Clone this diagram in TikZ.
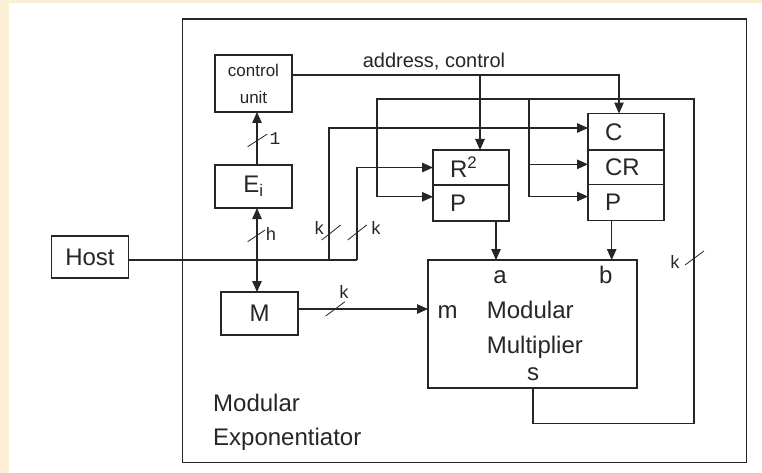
\documentclass[tikz,border=0pt]{standalone}
\usepackage{fontspec}
\setmainfont{Liberation Sans}
\newfontfamily\busfont{Liberation Mono}
\usetikzlibrary{arrows.meta,positioning}
\definecolor{paper}{RGB}{250,238,212}
\definecolor{ink}{RGB}{38,38,38}
\tikzset{
  blk/.style={draw=ink, text=ink, line width=1.1pt, inner sep=0pt, outer sep=0pt,
    font=\fontsize{24}{28}\selectfont},
  reg/.style={blk, minimum width=76pt, minimum height=36pt, text width=42pt,
    inner xsep=17pt, align=left},
  wire/.style={draw=ink, line width=1.1pt},
  arr/.style={wire, -{Triangle[length=11pt,width=9.5pt]}},
  busmark/.style={draw=ink, line width=0.8pt},
  buslbl/.style={text=ink, font=\busfont\fontsize{18}{18}\selectfont, inner sep=0pt},
  txt/.style={text=ink, font=\fontsize{24}{28}\selectfont, inner sep=0pt}
}
\begin{document}
\begin{tikzpicture}[x=1pt,y=-1pt]
\useasboundingbox (0,0) rectangle (762,473);
\fill[paper] (0,0) rectangle (762,473);
\fill[white] (9,3) rectangle (762,473);

\node[blk, minimum width=563.4pt, minimum height=443.7pt] (mexp) at (464.5,240.85) {};
\node[txt, anchor=base west] (mexp1) at (213,411.7) {Modular};
\node[txt, anchor=base west] (mexp2) at (213,445) {Exponentiator};

\node[blk, minimum width=77pt, minimum height=57pt, align=center,
  font=\fontsize{17}{27}\selectfont] (cu) at (253.5,83.5) {control\\unit};
\node[blk, minimum width=77pt, minimum height=43pt] (ei) at (253.5,186.5) {E\textsubscript{i}};
\node[blk, minimum width=77pt, minimum height=43pt] (m) at (259.5,313.5) {M};
\node[blk, minimum width=77pt, minimum height=42pt] (host) at (90,257) {Host};

\node[reg, minimum height=35pt] (r2) at (471,167.5) {R\textsuperscript{2}};
\node[reg, below=0pt of r2] (p1) {P};
\node[reg, minimum height=36.5pt] (c) at (626,131.8) {C};
\node[reg, minimum height=34.5pt, below=0pt of c] (cr) {CR};
\node[reg, below=0pt of cr] (p2) {P};

\node[blk, minimum width=209pt, minimum height=128pt] (mm) at (532.5,324) {};
\node[txt, anchor=base] (mma) at (500,283.3) {a};
\node[txt, anchor=base] (mmb) at (605.7,283.3) {b};
\node[txt, anchor=base] (mmm) at (447.5,318.3) {m};
\node[txt, anchor=base west] (mm1) at (486.7,318.3) {Modular};
\node[txt, anchor=base west] (mm2) at (486.7,353.3) {Multiplier};
\node[txt, anchor=base] (mms) at (533,380) {s};

\node[text=ink, font=\fontsize{20}{24}\selectfont, inner sep=0pt, anchor=base] (addr) at (434,67.7) {address, control};
\coordinate (cbus) at (480,75);
\draw[arr] (cu.east |- cbus) -| ([xshift=-7pt]c.north);
\draw[arr] (cbus) -- (cbus |- r2.north);

\draw[arr] ([xshift=3.5pt]ei.north) -- ([xshift=3.5pt]cu.south);
\draw[wire, {Triangle[length=11pt,width=9.5pt]}-{Triangle[length=11pt,width=9.5pt]}]
  ([xshift=3.5pt]ei.south) -- ([xshift=-2.5pt]m.north);

\coordinate (hk) at (329,260);
\coordinate (hj) at (357,260);
\draw[wire] (host.east |- hj) -- (hj);
\draw[arr] (hk) |- ([yshift=3.8pt]c.west);
\draw[arr] (hj) |- (r2.west);

\draw[arr] ([yshift=4.5pt]m.east) -- ([yshift=4.5pt]m.east -| mm.west);
\draw[arr] ([xshift=25pt]p1.south) -- ([xshift=25pt]p1.south |- mm.north);
\draw[arr] ([xshift=-14.3pt]p2.south) -- ([xshift=-14.3pt]p2.south |- mm.north);

\coordinate (fb2) at (694,423.3);
\coordinate (fb4) at (377,99);
\coordinate (fbj) at (529,99);
\draw[arr] ([xshift=0.5pt]mm.south) |- (fb2) |- (fb4) |- ([yshift=6.2pt]p1.west);
\draw[arr] (fbj) |- ([yshift=3pt]cr.west);
\draw[arr] (fbj) |- ([yshift=6pt]p2.west);

\draw[busmark] (247.7,146.7) -- (267.3,134);
\node[buslbl] (w1) at (275,139) {1};
\draw[busmark] (247.7,241.7) -- (265,230);
\node[buslbl] (wh) at (271,234) {h};
\draw[busmark] (321.7,240) -- (340.7,225);
\node[buslbl] (wk1) at (319.3,228) {k};
\draw[busmark] (347.7,240) -- (366.7,225);
\node[buslbl] (wk2) at (376,228) {k};
\draw[busmark] (325.7,316) -- (345,301.7);
\node[buslbl] (wk3) at (344,292) {k};
\draw[busmark] (685,265) -- (704,251);
\node[buslbl] (wk4) at (675,261.7) {k};
\end{tikzpicture}
\end{document}
